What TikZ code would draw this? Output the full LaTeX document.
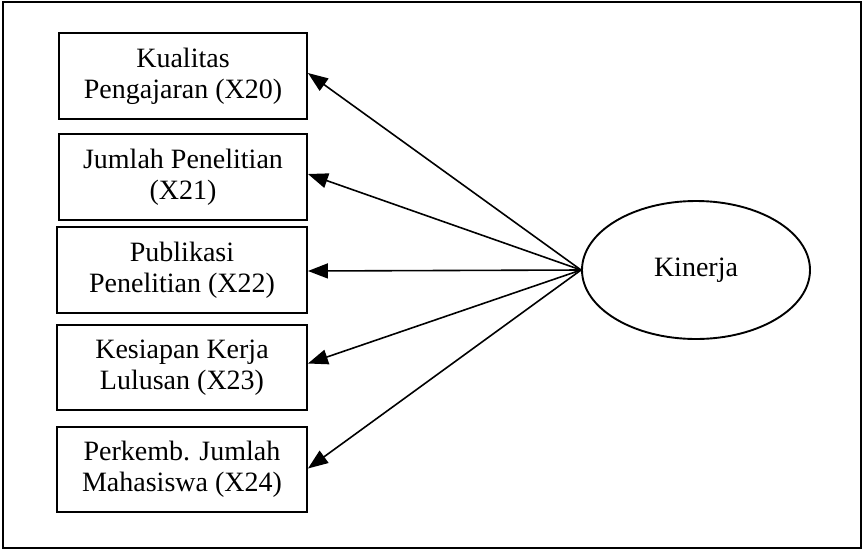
\documentclass[tikz,border=0pt]{standalone}
\usepackage{fontspec}
\setmainfont{Liberation Serif}
\usetikzlibrary{arrows.meta,shapes.geometric}
\begin{document}
\begin{tikzpicture}[x=1pt,y=-1pt,
  indicator/.style={draw,line width=1.9pt,minimum width=248pt,align=center,
    font=\fontsize{28}{31}\selectfont,inner sep=0pt},
  latent/.style={draw,ellipse,line width=1.9pt,minimum width=228pt,minimum height=138pt,
    font=\fontsize{28}{31}\selectfont},
  link/.style={line width=1.6pt,-{Triangle[length=20pt,width=15pt]}}]
\useasboundingbox (0,0) rectangle (863,550);
\draw[line width=1.8pt] (3,2) rectangle (861,548);
% indicator boxes
\node[indicator,minimum height=86pt] (b1) at (183,76) {Kualitas\\Pengajaran (X20)};
\node[indicator,minimum height=86pt] (b2) at (183,177) {Jumlah Penelitian\\(X21)};
\node[indicator,minimum width=250pt,minimum height=86pt] (b3) at (182,270) {Publikasi\\Penelitian (X22)};
\node[indicator,minimum width=250pt,minimum height=85pt] (b4) at (182,367.5) {Kesiapan Kerja\\Lulusan (X23)};
\node[indicator,minimum width=250pt,minimum height=85pt] (b5) at (182,469.5) {Perkemb. Jumlah\\Mahasiswa (X24)};
% latent construct
\node[latent] (k) at (696,270) {Kinerja};
% loadings, each ending on the box's right side
\foreach \b/\dy in {b1/3,b2/3,b3/-1,b4/4,b5/1}
  \draw[link] (k.west) -- ([yshift=\dy pt]\b.east);
\end{tikzpicture}
\end{document}
